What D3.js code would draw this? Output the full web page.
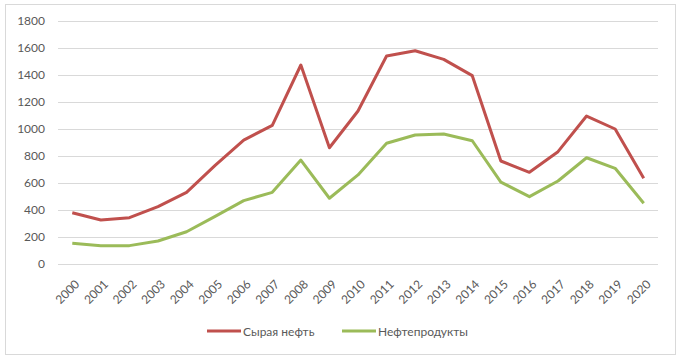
<!DOCTYPE html>
<html><head><meta charset="utf-8">
<script src="https://cdn.jsdelivr.net/npm/d3@7/dist/d3.min.js"></script>
<style>body{margin:0;background:#fff}svg{display:block}text{font-family:Lato,"Open Sans",sans-serif}</style>
</head><body>
<script>
const years = ["2000","2001","2002","2003","2004","2005","2006","2007","2008","2009","2010","2011","2012","2013","2014","2015","2016","2017","2018","2019","2020"];
const crude = [380,326,343,425,531,730,918,1027,1474,861,1133,1541,1580,1516,1395,763,679,832,1096,1000,635];
const products = [153,136,136,170,239,353,469,531,770,487,660,894,956,963,913,607,499,615,787,709,450];
const yTicks = [0,200,400,600,800,1000,1200,1400,1600,1800];
const seriesNames = ["Сырая нефть","Нефтепродукты"];
const colors = ["#C0504D","#9BBB59"];

const W=682,H=360;
const svg=d3.select("body").append("svg").attr("width",W).attr("height",H);
svg.append("rect").attr("x",5.5).attr("y",4.5).attr("width",670).attr("height",350)
  .attr("fill","#fff").attr("stroke","#D9D9D9");
const m={l:58,r:24,t:21,b:96};
const x=d3.scaleBand().domain(years).range([m.l,W-m.r]);
const y=d3.scaleLinear().domain([0,1800]).range([H-m.b,m.t]);

const gy=svg.append("g").attr("transform",`translate(${m.l},0)`)
  .call(d3.axisLeft(y).tickValues(yTicks).tickSize(-(W-m.r-m.l)).tickPadding(13).tickFormat(d3.format("d")));
gy.select(".domain").remove();
gy.selectAll(".tick line").attr("stroke","#D9D9D9");
gy.selectAll(".tick text").attr("fill","#595959").style("font-size","12px");

const gx=svg.append("g").attr("transform",`translate(0,${H-m.b})`)
  .call(d3.axisBottom(x).tickSize(0).tickPadding(0));
gx.select(".domain").remove();
gx.selectAll(".tick text").attr("fill","#595959").style("font-size","12px")
  .attr("text-anchor","end").attr("dy",null).attr("y",0)
  .attr("transform","translate(8,21) rotate(-45)");

const line=d3.line().x((d,i)=>x(years[i])+x.bandwidth()/2).y(d=>y(d));
[crude,products].forEach((s,k)=>{
  svg.append("path").datum(s).attr("d",line).attr("fill","none")
    .attr("stroke",colors[k]).attr("stroke-width",3).attr("stroke-linejoin","round");
});

const leg=[{x:207},{x:342}];
seriesNames.forEach((n,k)=>{
  const lx=leg[k].x, ly=331;
  svg.append("line").attr("x1",lx).attr("x2",lx+34).attr("y1",ly).attr("y2",ly)
    .attr("stroke",colors[k]).attr("stroke-width",3);
  svg.append("text").attr("x",lx+36).attr("y",ly+4.5).text(n)
    .attr("fill","#595959").style("font-size","12px");
});
</script>
</body></html>
